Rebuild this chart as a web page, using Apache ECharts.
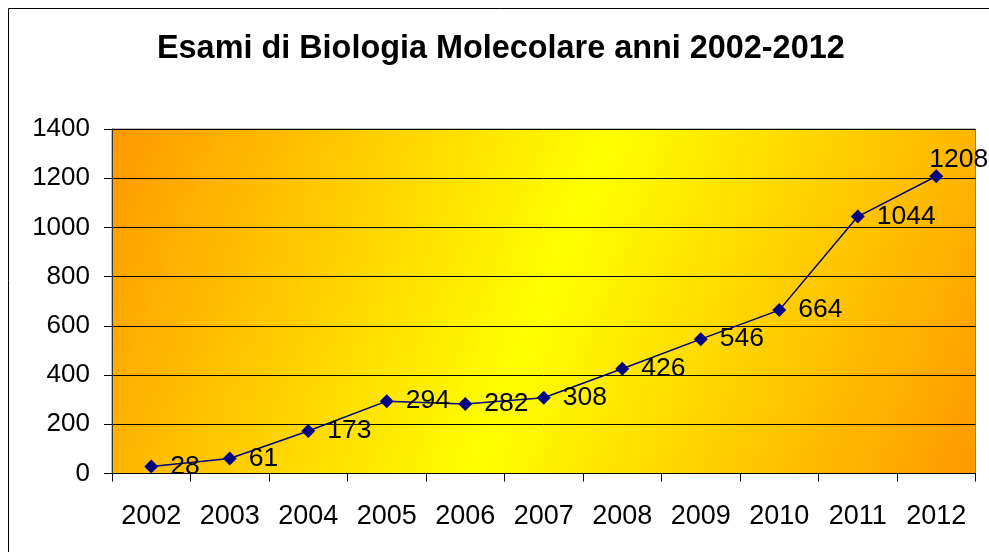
<!DOCTYPE html>
<html>
<head>
<meta charset="utf-8">
<script src="https://cdn.jsdelivr.net/npm/echarts@6/dist/echarts.min.js"></script>
<style>html,body{margin:0;padding:0;background:#fff;}#c{width:989px;height:552px;}</style>
</head>
<body>
<div id="c"></div>
<script>
var titleText = 'Esami di Biologia Molecolare anni 2002-2012';
var years = ['2002','2003','2004','2005','2006','2007','2008','2009','2010','2011','2012'];
var esami = [28, 61, 173, 294, 282, 308, 426, 546, 664, 1044, 1208];
var yTicks = {min: 0, max: 1400, interval: 200};

var font = 'Liberation Sans, Arial, sans-serif';
var seriesData = esami.map(function (v, i) {
  if (i === esami.length - 1) {
    return {value: v, label: {position: 'right', offset: [-26, -17]}};
  }
  return v;
});

var chart = echarts.init(document.getElementById('c'), null, {renderer: 'canvas'});
chart.setOption({
  animation: false,
  backgroundColor: '#ffffff',
  title: {
    text: titleText,
    left: 152,
    top: 28,
    textStyle: {fontFamily: font, fontWeight: 'bold', fontSize: 32.4, color: '#000'}
  },
  graphic: [{
    type: 'rect',
    shape: {x: 8.5, y: 8.5, width: 1100, height: 700},
    style: {fill: 'none', stroke: '#000', lineWidth: 1},
    silent: true,
    z: -10
  }],
  grid: {
    left: 112, top: 129, right: 13.5, bottom: 78.5,
    show: true,
    borderColor: '#808080',
    borderWidth: 1,
    backgroundColor: new echarts.graphic.LinearGradient(0, 0, 1, 1, [
      {offset: 0, color: '#FF9900'},
      {offset: 0.5, color: '#FFFF00'},
      {offset: 1, color: '#FF9900'}
    ])
  },
  xAxis: {
    type: 'category',
    data: years,
    boundaryGap: true,
    axisLine: {lineStyle: {color: '#000', width: 1}},
    axisTick: {show: true, interval: 0, length: 8, lineStyle: {color: '#000'}},
    axisLabel: {interval: 0, margin: 30, fontSize: 27, fontFamily: font, color: '#000'},
    splitLine: {show: false}
  },
  yAxis: {
    type: 'value',
    min: yTicks.min, max: yTicks.max, interval: yTicks.interval,
    axisLine: {show: true, lineStyle: {color: '#333', width: 1}},
    axisTick: {show: true, length: 8, lineStyle: {color: '#000'}},
    axisLabel: {margin: 22, fontSize: 26, fontFamily: font, color: '#000',
      formatter: function (v) { return String(v); }},
    splitLine: {show: true, lineStyle: {color: '#000', width: 1}}
  },
  series: [{
    type: 'line',
    data: seriesData,
    symbol: 'diamond',
    symbolSize: 14,
    lineStyle: {color: '#000080', width: 1.5},
    itemStyle: {color: '#000080'},
    label: {
      show: true,
      position: 'right',
      distance: 12,
      fontSize: 26.5,
      fontFamily: font,
      color: '#000'
    }
  }]
});
</script>
</body>
</html>
